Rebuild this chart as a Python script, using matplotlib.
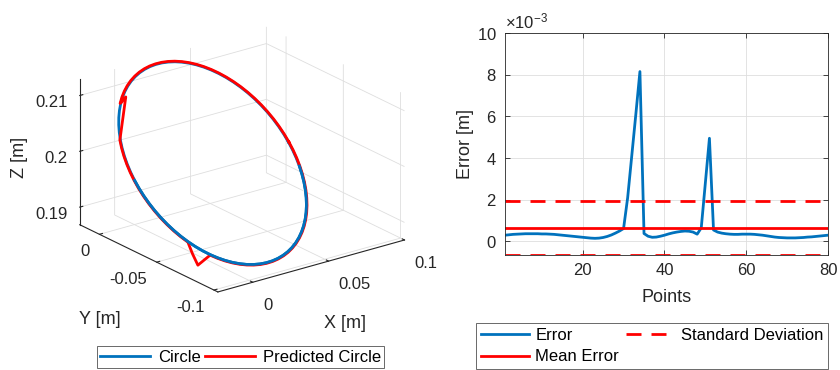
import numpy as np
import matplotlib
matplotlib.use('Agg')
import matplotlib.pyplot as plt
from matplotlib.ticker import FixedLocator, FuncFormatter, ScalarFormatter
from matplotlib.lines import Line2D

plt.rcParams['font.family'] = ['Liberation Sans', 'DejaVu Sans']
plt.rcParams['axes.unicode_minus'] = False
plt.rcParams['mathtext.fontset'] = 'custom'
plt.rcParams['mathtext.rm'] = 'Liberation Sans'
plt.rcParams['mathtext.it'] = 'Liberation Sans:italic'
plt.rcParams['grid.color'] = '#dedede'
plt.rcParams['grid.linewidth'] = 0.6

TXT = '#262626'
BLUE = '#0072BD'
RED = '#FF0000'

# ---------------- data: 3D circle ----------------
circle_center = (0.0225, -0.0385, 0.2)
circle_radius = 0.05
circle_tilt_deg = 15.0
n_points = 80
pred_radius_scale = 1.006
# predicted-circle deviations (0-based index, in-plane coords a, b in radius units)
kink_index = [30, 31, 32, 33, 49, 50]
kink_a = [-0.645, -0.620, -0.595, -0.569, -0.806, -0.817]
kink_b = [0.755, 0.770, 0.780, 0.789, -0.742, -0.855]
circle_front_range = (39, 77)   # part of the circle drawn above the prediction

x_lim = (-0.023, 0.1)
y_lim = (-0.1034, 0.0172)
z_lim = (0.18685, 0.2130)
x_ticks = [0, 0.05, 0.1]
y_ticks = [-0.1, -0.05, 0]
z_ticks = [0.19, 0.2, 0.21]

# ---------------- data: error ----------------
error_mm = [0.30, 0.32, 0.34, 0.35, 0.36, 0.37, 0.37, 0.37, 0.37, 0.36,
            0.36, 0.35, 0.34, 0.32, 0.30, 0.28, 0.26, 0.24, 0.22, 0.20,
            0.18, 0.16, 0.15, 0.16, 0.19, 0.24, 0.31, 0.40, 0.50, 0.62,
            2.10, 4.10, 6.10, 8.15, 0.38, 0.25, 0.20, 0.21, 0.25, 0.30,
            0.36, 0.41, 0.45, 0.48, 0.50, 0.49, 0.45, 0.35, 0.65, 2.80,
            4.95, 0.55, 0.45, 0.40, 0.37, 0.35, 0.34, 0.34, 0.35, 0.35,
            0.35, 0.34, 0.32, 0.30, 0.27, 0.24, 0.21, 0.19, 0.18, 0.17,
            0.17, 0.17, 0.18, 0.19, 0.21, 0.22, 0.24, 0.26, 0.28, 0.30]
error = np.array(error_mm) * 1e-3
points = np.arange(1, len(error) + 1)
err_xticks = [20, 40, 60, 80]
err_yticks = [0, 0.002, 0.004, 0.006, 0.008, 0.010]

# ---------------- geometry ----------------
t = np.linspace(0, 2 * np.pi, n_points)
tilt = np.deg2rad(circle_tilt_deg)
cx, cy, cz = circle_center


def plane_point(a, b, rad):
    a = np.asarray(a, float)
    b = np.asarray(b, float)
    return (cx + rad * a, cy + rad * b * np.cos(tilt), cz + rad * b * np.sin(tilt))


circ = np.array(plane_point(np.cos(t), np.sin(t), circle_radius))
pred = np.array(plane_point(np.cos(t), np.sin(t), circle_radius * pred_radius_scale))
kp = np.array(plane_point(kink_a, kink_b, circle_radius))
pred[:, kink_index] = kp

W, H = 840, 370
fig = plt.figure(figsize=(8.4, 3.7), dpi=100)

# ---------------- 3D axes ----------------
ax = fig.add_axes([-0.0176, 0.066, 0.6, 0.98], projection='3d', proj_type='ortho')
ax.computed_zorder = False
ax.view_init(elev=21.6, azim=-127.1)
ax.set_box_aspect((234, 229, 157), zoom=0.972)
ax.set_xlim(*x_lim)
ax.set_ylim(*y_lim)
ax.set_zlim(*z_lim)

ax.plot(circ[0], circ[1], circ[2], color=BLUE, lw=2, zorder=3)
ax.plot(pred[0], pred[1], pred[2], color=RED, lw=2, zorder=4)
s0, s1 = circle_front_range
ax.plot(circ[0, s0:s1], circ[1, s0:s1], circ[2, s0:s1], color=BLUE, lw=2, zorder=5)

fmt = FuncFormatter(lambda v, p: f'{v:g}')
for axis, ticks in ((ax.xaxis, x_ticks), (ax.yaxis, y_ticks), (ax.zaxis, z_ticks)):
    axis.set_major_locator(FixedLocator(ticks))
    axis.set_major_formatter(fmt)
    axis.set_pane_color((1, 1, 1, 0))
    axis.pane.set_edgecolor((1, 1, 1, 0))
    axis.line.set_color(TXT)
    axis.line.set_linewidth(0.8)
    axis._axinfo['tick']['inward_factor'] = 0.0
    axis._axinfo['tick']['outward_factor'] = 0.2
ax.tick_params(labelsize=12, colors=TXT, pad=2)
ax.yaxis.set_tick_params(pad=-1)
ax.zaxis.set_tick_params(pad=-3)

fig.text(100 / W, 1 - 320 / H, 'Y [m]', ha='center', va='center', fontsize=13, color=TXT)
fig.text(345 / W, 1 - 323 / H, 'X [m]', ha='center', va='center', fontsize=13, color=TXT)
fig.text(20 / W, 1 - 157 / H, 'Z [m]', ha='center', va='center', fontsize=13, color=TXT,
         rotation=90)

h1 = Line2D([], [], color=BLUE, lw=2)
h2 = Line2D([], [], color=RED, lw=2)
leg1 = fig.legend([h1, h2], ['Circle', 'Predicted Circle'], ncol=2, loc='center',
                  bbox_to_anchor=(97 / W, 1 - 369 / H, 287 / W, 24 / H), mode='expand',
                  fontsize=12, frameon=True, fancybox=False, edgecolor=TXT,
                  handlelength=3.0, handletextpad=0.45, columnspacing=0.5,
                  borderpad=0.2, borderaxespad=0)
leg1.get_frame().set_linewidth(0.6)

# ---------------- error axes ----------------
ax2 = fig.add_axes([505 / W, 1 - 255 / H, 323 / W, 222 / H])
mean_err = np.mean(error)
std_err = np.std(error, ddof=1)
l_err, = ax2.plot(points, error, color=BLUE, lw=2)
l_mean = ax2.axhline(mean_err, color=RED, lw=2)
l_std = ax2.axhline(mean_err + std_err, color=RED, lw=2, ls=(0, (5.4, 3.6)))
ax2.axhline(mean_err - std_err, color=RED, lw=2, ls=(0, (5.4, 3.6)))
ax2.set_xlim(points[0], points[-1])
ax2.set_ylim(mean_err - std_err, 0.010)
ax2.xaxis.set_major_locator(FixedLocator(err_xticks))
ax2.yaxis.set_major_locator(FixedLocator(err_yticks))
sf = ScalarFormatter(useMathText=True)
sf.set_powerlimits((-3, -3))
ax2.yaxis.set_major_formatter(sf)
ax2.grid(True, color='#dedede', lw=0.6)
ax2.set_axisbelow(True)
ax2.tick_params(direction='in', length=3.5, width=0.6, top=True, right=True,
                labelsize=12, colors=TXT, pad=6)
for sp in ax2.spines.values():
    sp.set_color(TXT)
    sp.set_linewidth(0.6)
ax2.set_xlabel('Points', fontsize=13, color=TXT, labelpad=8)
ax2.set_ylabel('Error [m]', fontsize=13, color=TXT, labelpad=2)
ax2.yaxis.get_offset_text().set_fontsize(12)
ax2.yaxis.get_offset_text().set_color(TXT)

leg2 = fig.legend([l_err, l_mean, l_std], ['Error', 'Mean Error', 'Standard Deviation'],
                  ncol=2, loc='center',
                  bbox_to_anchor=(476 / W, 1 - 369 / H, 352 / W, 46 / H), mode='expand',
                  fontsize=12, frameon=True, fancybox=False, edgecolor=TXT,
                  handlelength=2.9, handletextpad=0.35, columnspacing=0.3,
                  borderpad=0.3, labelspacing=0.4, borderaxespad=0)
leg2.get_frame().set_linewidth(0.6)

# MATLAB-like tick label alignment on the 3D axes
fig.canvas.draw()
for lbl in ax.xaxis.get_ticklabels():
    lbl.set_ha('left')
for lbl in ax.yaxis.get_ticklabels():
    lbl.set_ha('right')
for lbl in ax.zaxis.get_ticklabels():
    lbl.set_ha('right')

fig.savefig('out.png', dpi=100, facecolor='white')
